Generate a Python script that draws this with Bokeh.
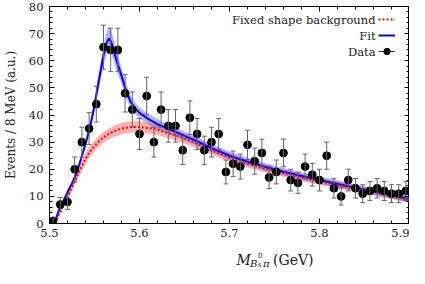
from bokeh.plotting import figure
from bokeh.layouts import column
from bokeh.models import (Range1d, LinearAxis, SingleIntervalTicker, Whisker, TeeHead,
                          ColumnDataSource, Label, Legend, LegendItem,
                          CustomJSTickFormatter)
from bokeh.embed import file_html
from bokeh.resources import INLINE

# ---------------- data ----------------
mass_bins = [5.504 + 0.008 * i for i in range(50)]  # 8 MeV bin centres
counts = [1, 7, 8, 20, 30, 35, 44, 65, 64, 64,
          48, 42, 33, 47, 30, 42, 36, 36, 27, 39,
          33, 27, 30, 33, 19, 22, 21, 29, 23, 26,
          17, 19, 26, 16, 15, 21, 18, 16, 25, 13,
          10, 16, 13, 11, 12, 13, 12, 11, 11, 12]
count_err = [1.0, 2.6, 2.8, 4.5, 5.5, 5.9, 6.6, 8.1, 8.0, 8.0,
             6.9, 6.5, 5.7, 6.9, 5.5, 6.5, 6.0, 6.0, 5.2, 6.2,
             5.7, 5.2, 5.5, 5.7, 4.4, 4.7, 4.6, 5.4, 4.8, 5.1,
             4.1, 4.4, 5.1, 4.0, 3.9, 4.6, 4.2, 4.0, 5.0, 3.6,
             3.2, 4.0, 3.6, 3.3, 3.5, 3.6, 3.5, 3.3, 3.3, 3.5]
bin_halfwidth = 0.004

fit_mass = [5.5055, 5.510, 5.515, 5.520, 5.525, 5.530, 5.535, 5.540, 5.545, 5.550,
            5.555, 5.560, 5.5635, 5.566, 5.5685, 5.572, 5.576, 5.580, 5.585, 5.590,
            5.595, 5.600, 5.610, 5.620, 5.630, 5.640, 5.650, 5.660, 5.680, 5.700,
            5.720, 5.740, 5.760, 5.780, 5.800, 5.820, 5.840, 5.860, 5.880, 5.900]
fit_vals = [0.0, 4.5, 8.0, 11.5, 14.8, 18.5, 23.8, 29.3, 35.5, 43.5,
            53.0, 62.0, 66.5, 68.2, 67.0, 63.0, 58.5, 54.5, 49.0, 45.0,
            42.5, 40.8, 38.5, 36.6, 35.2, 33.8, 32.3, 30.9, 27.8, 25.0,
            22.8, 20.8, 19.1, 17.5, 16.0, 14.6, 13.2, 11.8, 10.4, 9.0]
fit_band = [0.8, 0.8, 0.8, 0.8, 0.9, 1.0, 1.1, 1.2, 1.4, 2.0,
            3.0, 3.8, 4.2, 4.5, 4.3, 4.0, 3.5, 3.0, 2.6, 2.3,
            2.1, 2.0, 1.9, 1.8, 1.7, 1.7, 1.6, 1.6, 1.5, 1.5,
            1.4, 1.4, 1.4, 1.3, 1.3, 1.3, 1.2, 1.2, 1.2, 1.2]

bkg_mass = [5.507, 5.510, 5.515, 5.520, 5.525, 5.530, 5.535, 5.540, 5.545, 5.550,
            5.555, 5.560, 5.570, 5.580, 5.590, 5.600, 5.610, 5.620, 5.630, 5.640,
            5.650, 5.660, 5.680, 5.700, 5.720, 5.740, 5.760, 5.780, 5.800, 5.820,
            5.840, 5.860, 5.880, 5.900]
bkg_vals = [0.0, 3.0, 6.5, 9.8, 13.5, 17.0, 20.5, 23.8, 26.5, 28.5,
            30.3, 31.8, 33.8, 35.0, 35.6, 35.6, 35.2, 34.6, 33.5, 32.5,
            31.3, 30.0, 27.0, 24.3, 22.1, 20.2, 18.6, 17.0, 15.6, 14.2,
            12.9, 11.5, 10.1, 8.7]
bkg_band = [0.3, 0.6, 1.0, 1.3, 1.5, 1.6, 1.8, 1.9, 2.0, 2.0,
            2.0, 2.0, 2.0, 2.1, 2.1, 2.1, 2.0, 2.0, 1.9, 1.9,
            1.8, 1.8, 1.7, 1.6, 1.5, 1.5, 1.4, 1.4, 1.3, 1.3,
            1.2, 1.2, 1.1, 1.1]

x_range = (5.5, 5.9)
y_range = (0, 80)
legend_labels = ["Fixed shape background", "Fit", "Data"]

SERIF = "DejaVu Serif"
FIG_W, FIG_H = 409, 241
LABEL_H = 27
BORDER_L, BORDER_R, BORDER_T, BORDER_B = 42, 0, 6, 18

# ---------------- figure ----------------
p = figure(width=FIG_W, height=FIG_H, output_backend="svg", toolbar_location=None,
           x_range=Range1d(*x_range), y_range=Range1d(*y_range),
           min_border_left=BORDER_L, min_border_right=BORDER_R,
           min_border_top=BORDER_T, min_border_bottom=BORDER_B)
p.grid.visible = False
p.outline_line_color = "black"
p.outline_line_width = 1
p.background_fill_color = "white"

blank = CustomJSTickFormatter(code="return ''")


def style_axis(ax, labels=True):
    ax.major_tick_in = 5
    ax.major_tick_out = 0
    ax.minor_tick_in = 3
    ax.minor_tick_out = 0
    ax.major_tick_line_color = "black"
    ax.minor_tick_line_color = "black"
    ax.axis_line_color = "black"
    ax.axis_label_standoff = 0
    if labels:
        ax.major_label_text_font = SERIF
        ax.major_label_text_font_size = "11.5px"
        ax.major_label_text_color = "#222222"
    else:
        ax.formatter = blank
        ax.major_label_text_font_size = "1px"
        ax.major_label_standoff = 0


p.xaxis.ticker = SingleIntervalTicker(interval=0.1, num_minor_ticks=5)
p.yaxis.ticker = SingleIntervalTicker(interval=10, num_minor_ticks=5)
style_axis(p.xaxis[0])
style_axis(p.yaxis[0])
p.xaxis.axis_label = None
p.xaxis.major_label_standoff = 5
p.yaxis.major_label_standoff = 6
p.yaxis.axis_label = "Events / 8 MeV (a.u.)"
p.yaxis.axis_label_text_font = SERIF
p.yaxis.axis_label_text_font_size = "12px"
p.yaxis.axis_label_text_font_style = "normal"
p.yaxis.axis_label_text_color = "#222222"
p.yaxis.axis_label_standoff = 8

top_ax = LinearAxis(ticker=SingleIntervalTicker(interval=0.1, num_minor_ticks=5))
style_axis(top_ax, labels=False)
p.add_layout(top_ax, "above")
right_ax = LinearAxis(ticker=SingleIntervalTicker(interval=10, num_minor_ticks=5))
style_axis(right_ax, labels=False)
p.add_layout(right_ax, "right")

# ---------------- curves ----------------
fit_src = ColumnDataSource(dict(
    x=fit_mass, y=fit_vals,
    lo=[v - b for v, b in zip(fit_vals, fit_band)],
    hi=[v + b for v, b in zip(fit_vals, fit_band)]))
bkg_src = ColumnDataSource(dict(
    x=bkg_mass, y=bkg_vals,
    lo=[max(v - b, 0) for v, b in zip(bkg_vals, bkg_band)],
    hi=[v + b for v, b in zip(bkg_vals, bkg_band)]))

p.varea(x="x", y1="lo", y2="hi", source=bkg_src, fill_color="#ff4040", fill_alpha=0.42)
p.varea(x="x", y1="lo", y2="hi", source=fit_src, fill_color="#4040ff", fill_alpha=0.4)
fit_line = p.line("x", "y", source=fit_src, line_color="#0000ff", line_width=2)
bkg_line = p.line("x", "y", source=bkg_src, line_color="#ff0000", line_width=2,
                  line_dash="2 2")

# ---------------- data ----------------
data_src = ColumnDataSource(dict(
    x=mass_bins, y=counts,
    lo=[c - e for c, e in zip(counts, count_err)],
    hi=[c + e for c, e in zip(counts, count_err)],
    x0=[m - bin_halfwidth for m in mass_bins],
    x1=[m + bin_halfwidth for m in mass_bins]))
whisk = Whisker(base="x", lower="lo", upper="hi", source=data_src, level="glyph",
                line_color="#666666", line_width=1,
                upper_head=TeeHead(size=5, line_color="#666666", line_width=1),
                lower_head=TeeHead(size=5, line_color="#666666", line_width=1))
p.add_layout(whisk)
hbar = p.segment(x0="x0", y0="y", x1="x1", y1="y", source=data_src,
                 line_color="#333333", line_width=1)
pts = p.scatter("x", "y", source=data_src, size=7.8, marker="circle",
                fill_color="black", line_color="black")

# ---------------- legend (glyph on right, text on left) ----------------
legend = Legend(items=[LegendItem(label=" ", renderers=[bkg_line]),
                       LegendItem(label=" ", renderers=[fit_line]),
                       LegendItem(label=" ", renderers=[hbar, pts])],
                location="top_right", margin=0, padding=5, spacing=0,
                glyph_width=17, glyph_height=16, label_standoff=0, label_width=9,
                label_text_font_size="11px", background_fill_alpha=0,
                border_line_alpha=0)
p.add_layout(legend)

for i, txt in enumerate(legend_labels):
    p.add_layout(Label(x=x_range[1], x_offset=-34, y=y_range[1], y_offset=-13 - 16 * i,
                       x_units="data", y_units="data",
                       text=txt, text_align="right", text_baseline="middle",
                       text_font=SERIF, text_font_size="11.5px", text_color="#222222"))

# ---------------- x-axis label M_{B_s^0 pi} (GeV), as svg text ----------------
lab = figure(width=FIG_W, height=LABEL_H, output_backend="svg", toolbar_location=None,
             x_axis_type=None, y_axis_type=None, min_border=0,
             x_range=Range1d(0, FIG_W), y_range=Range1d(0, LABEL_H))
lab.outline_line_color = None
lab.grid.visible = False
xlabel_parts = [("M", 187, 9, "14px", "italic"),
                ("B", 200.5, 5.5, "10px", "italic"),
                ("0", 208.5, 13.5, "7px", "normal"),
                ("s", 208.5, 4, "7px", "italic"),
                ("π", 213.5, 5.5, "10px", "italic"),
                ("(GeV)", 223.5, 9, "14px", "normal")]
for txt, xx, yy, fs, st in xlabel_parts:
    lab.add_layout(Label(x=xx, y=yy, x_units="screen", y_units="screen", text=txt,
                         text_align="left", text_baseline="alphabetic",
                         text_font=SERIF, text_font_size=fs, text_font_style=st,
                         text_color="#222222"))

layout = column(p, lab, spacing=0)
open("out.html", "w").write(file_html(layout, INLINE))
